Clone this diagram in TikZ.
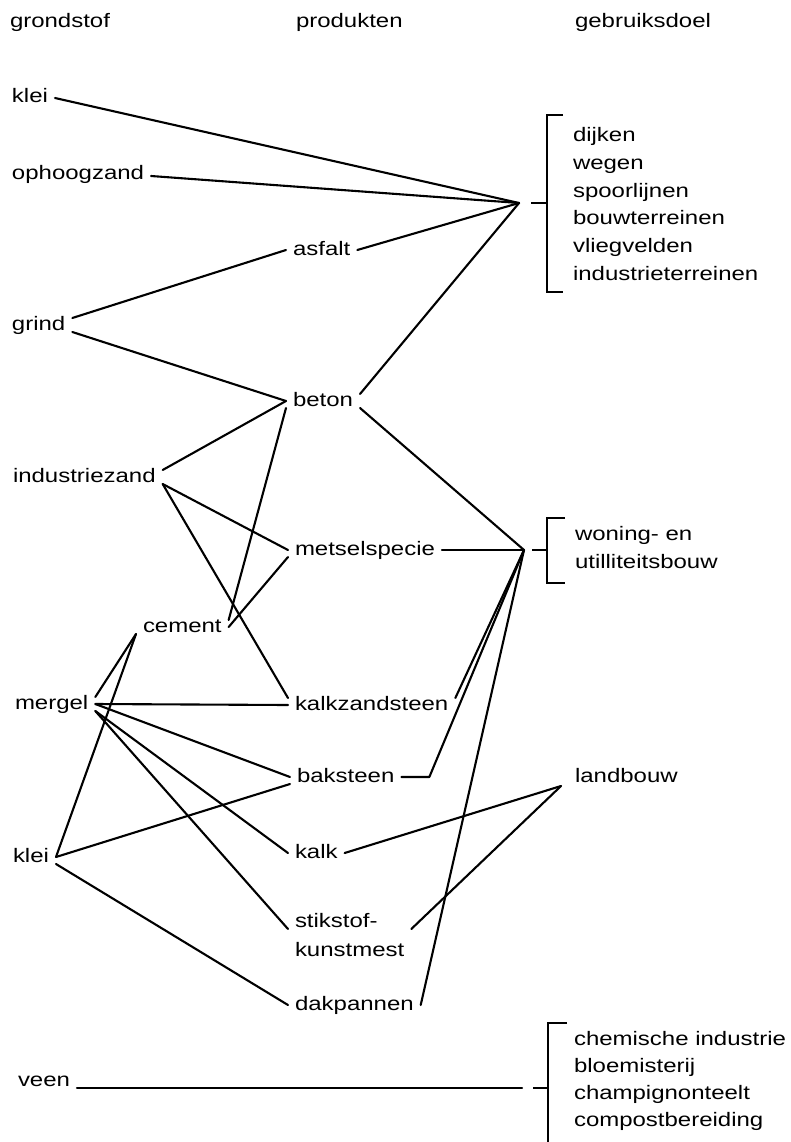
\documentclass[tikz,border=0pt]{standalone}
\usepackage{fontspec}
\setmainfont{Liberation Sans}[FakeStretch=1.23]

\begin{document}
\begin{tikzpicture}[
  x=1pt, y=-1pt,
  line cap=round,
  line join=round,
  every node/.style={font=\fontsize{19.5}{27.5}\selectfont},
  term/.style={anchor=base west, inner xsep=7pt, inner ysep=2pt, outer sep=0pt,
    text height=10pt, text depth=0pt},
  link/.style={line width=2.1pt},
  brace/.style={line width=2.6pt, line cap=butt, line join=miter}
]
\useasboundingbox (0,0) rectangle (791,1142);

% ------------------------------------------------------------------
% Column heads
% ------------------------------------------------------------------
\node[term] (grondstof) at (3,28) {grondstof};
\node[term] (produkten) at (289,28) {produkten};
\node[term] (gebruiksdoel) at (568,28) {gebruiksdoel};

% ------------------------------------------------------------------
% Raw materials
% ------------------------------------------------------------------
\node[term] (kleiA) at (5,103) {klei};
\node[term] (ophoogzand) at (5,179) {ophoogzand};
\node[term] (grind) at (5,330) {grind};
\node[term] (industriezand) at (6,482) {industriezand};
\node[term] (mergel) at (8,709) {mergel};
\node[term] (kleiB) at (6,862) {klei};
\node[term] (veen) at (11,1086) {veen};

% ------------------------------------------------------------------
% Products
% ------------------------------------------------------------------
\node[term] (asfalt) at (286,255) {asfalt};
\node[term] (beton) at (286,406) {beton};
\node[term] (metselspecie) at (288,555) {metselspecie};
\node[term] (cement) at (136,632) {cement};
\node[term] (kalkzandsteen) at (288,710) {kalkzandsteen};
\node[term] (baksteen) at (290,782) {baksteen};
\node[term] (kalk) at (288,858) {kalk};
\node[term] (stikstof) at (288,927) {stikstof-};
\node[term] (kunstmest) at (288,956) {kunstmest};
\node[term] (dakpannen) at (288,1010) {dakpannen};

% ------------------------------------------------------------------
% Uses
% ------------------------------------------------------------------
\foreach \w [count=\i from 0] in {dijken,wegen,spoorlijnen,bouwterreinen,vliegvelden,industrieterreinen}
  \node[term] (use\i) at (566,142+27.6*\i) {\w};
\node[term] (woning) at (568,540) {woning- en};
\node[term] (utiliteit) at (568,568) {utilliteitsbouw};
\node[term] (landbouw) at (568,782) {landbouw};
\foreach \w [count=\i from 0] in {chemische industrie,bloemisterij,champignonteelt,compostbereiding}
  \node[term] (peat\i) at (567,1045+27*\i) {\w};

\coordinate (hubA) at (519,203);
\coordinate (hubB) at (524,550);
\coordinate (hubC) at (561,786);
\coordinate (hubD) at (522,1088);

% brackets
\draw[brace] (563,115) -- (547,115) -- (547,292) -- (563,292);
\draw[brace] (531,203) -- (547,203);
\draw[brace] (565,518) -- (547,518) -- (547,583) -- (565,583);
\draw[brace] (532,550) -- (547,550);
\draw[brace] (567,1023) -- (548,1023) -- (548,1142);
\draw[brace] (533,1088) -- (548,1088);

% ------------------------------------------------------------------
% Links
% ------------------------------------------------------------------
\draw[link] (kleiA.east) -- (hubA);
\draw[link] ([yshift=-2pt]ophoogzand.east) -- (hubA);
\draw[link] (asfalt.east) -- (hubA);
\draw[link] (beton.north east) -- (hubA);

\draw[link] (grind.north east) -- (asfalt.west);
\draw[link] (grind.south east) -- (beton.west);
\draw[link] (industriezand.north east) -- (beton.west);
\draw[link] (industriezand.south east) -- (metselspecie.west);
\draw[link] (industriezand.south east) -- (kalkzandsteen.north west);
\draw[link] (cement.north east) -- (beton.south west);
\draw[link] (cement.east) -- (metselspecie.south west);
\draw[link] (cement.south west) -- (mergel.north east);
\draw[link] (cement.south west) -- (kleiB.east);
\draw[link] (mergel.east) -- (kalkzandsteen.west);
\draw[link] (mergel.east) -- (baksteen.west);
\draw[link] (mergel.south east) -- (kalk.west);
\draw[link] (mergel.south east) -- (stikstof.south west);
\draw[link] (kleiB.east) -- (baksteen.south west);
\draw[link] (kleiB.south east) -- (dakpannen.west);

\draw[link] (beton.south east) -- (hubB);
\draw[link] (metselspecie.east) -- (hubB);
\draw[link] (kalkzandsteen.north east) -- (hubB);
\draw[link] (baksteen.east) -- ++(28,0) -- (hubB);
\draw[link] (dakpannen.east) -- (hubB);

\draw[link] (kalk.east) -- (hubC);
\draw[link] (stikstof.south -| kunstmest.east) -- (hubC);

\draw[link] (veen.south east) -- (hubD);

\end{tikzpicture}
\end{document}
